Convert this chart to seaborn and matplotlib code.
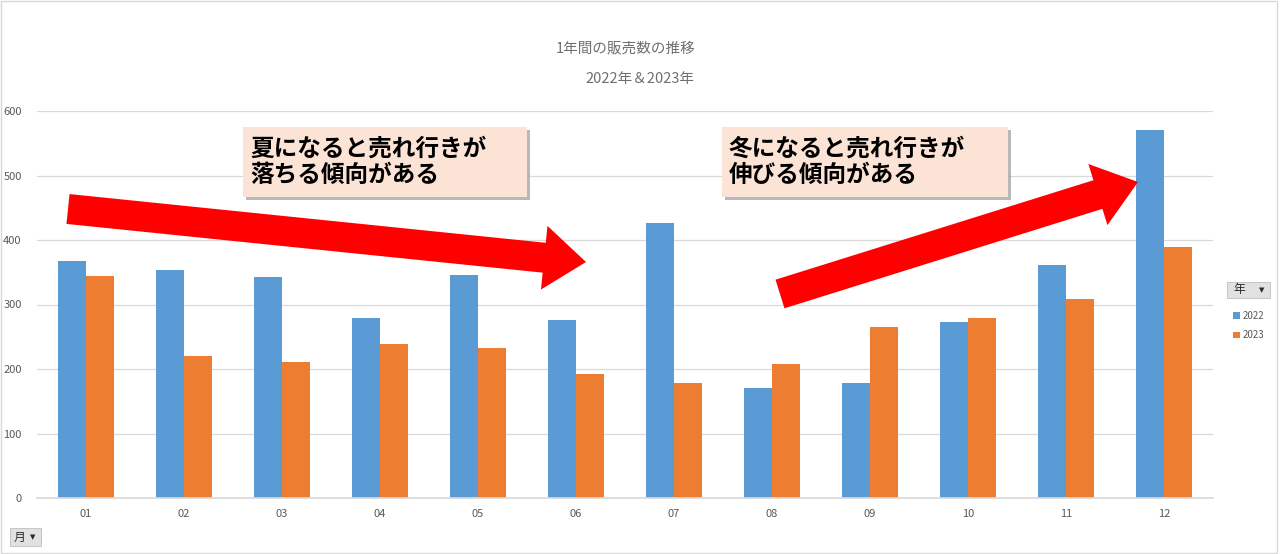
import matplotlib
matplotlib.use("Agg")
import matplotlib.pyplot as plt
import seaborn as sns
import pandas as pd
from matplotlib.patches import FancyArrowPatch, Rectangle, ArrowStyle

months = ["01", "02", "03", "04", "05", "06", "07", "08", "09", "10", "11", "12"]
sales_2022 = [367, 353, 343, 279, 346, 276, 426, 171, 178, 273, 361, 571]
sales_2023 = [344, 220, 211, 239, 233, 192, 178, 208, 265, 279, 309, 389]
years = ["2022", "2023"]
colors = ["#5B9BD5", "#ED7D31"]
title_lines = ["1年間の販売数の推移", "2022年＆2023年"]
note_summer = "夏になると売れ行きが\n落ちる傾向がある"
note_winter = "冬になると売れ行きが\n伸びる傾向がある"

df = pd.DataFrame({
    "月": months * 2,
    "販売数": sales_2022 + sales_2023,
    "年": [years[0]] * len(months) + [years[1]] * len(months),
})

sns.set_theme(style="white")
plt.rcParams['font.family'] = ['Noto Sans CJK JP', 'DejaVu Sans']

W, H = 1280, 554
fig = plt.figure(figsize=(W / 100, H / 100), dpi=100)

def fx(px):
    return px / W

def fy(py):
    return 1 - py / H

ax = fig.add_axes([fx(37), fy(498), fx(1213) - fx(37), fy(111) - fy(498)])
sns.barplot(data=df, x="月", y="販売数", hue="年", palette=colors,
            width=0.57, ax=ax, saturation=1, legend=True, linewidth=0, edgecolor="none")
ax.set_ylim(0, 600)
ax.set_yticks(range(0, 601, 100))
ax.yaxis.grid(True, color="#D9D9D9", linewidth=0.9)
ax.set_axisbelow(True)
for s in ["top", "right", "left"]:
    ax.spines[s].set_visible(False)
ax.spines["bottom"].set_color("#D9D9D9")
ax.set_xlabel("")
ax.set_ylabel("")
ax.tick_params(axis="both", colors="#595959", labelsize=8, length=0)
ax.tick_params(axis="y", pad=11)
ax.tick_params(axis="x", pad=8)

# Legend on right
ax.legend(loc="upper left", bbox_to_anchor=(fx(1224), fy(302)),
          bbox_transform=fig.transFigure, frameon=False, fontsize=7,
          handlelength=0.7, handleheight=0.7, handletextpad=0.3,
          labelspacing=1.0, labelcolor="#595959")

# Legend "年" button
fig.add_artist(Rectangle((fx(1227), fy(298)), fx(43), fy(282) - fy(298),
                         transform=fig.transFigure, fc="#E1E1E1", ec="#BFBFBF", lw=0.6))
fig.text(fx(1233), fy(290), "年", fontsize=8.5, va="center", ha="left", color="#262626")
fig.text(fx(1262), fy(290), "▼", fontsize=5, va="center", ha="center", color="#262626",
         family=["DejaVu Sans"])

# "月" button
fig.add_artist(Rectangle((fx(10), fy(546)), fx(31), fy(528) - fy(546),
                         transform=fig.transFigure, fc="#E1E1E1", ec="#BFBFBF", lw=0.6))
fig.text(fx(14), fy(537), "月", fontsize=8.5, va="center", ha="left", color="#262626")
fig.text(fx(33), fy(537), "▼", fontsize=5, va="center", ha="center", color="#262626",
         family=["DejaVu Sans"])

# Title
fig.text(fx(626), fy(48), title_lines[0], ha="center", va="center", fontsize=10.5, color="#6F6F6F")
fig.text(fx(640), fy(79), title_lines[1], ha="center", va="center", fontsize=10.5, color="#6F6F6F")

# Arrows
px2pt = 72 / 100
style = ArrowStyle("Simple", tail_width=30 * px2pt, head_width=64 * px2pt, head_length=42 * px2pt)
for (x0, y0), (x1, y1) in [((68, 209), (586, 262)), ((780, 294), (1138, 182))]:
    fig.add_artist(FancyArrowPatch((fx(x0), fy(y0)), (fx(x1), fy(y1)),
                                   transform=fig.transFigure, arrowstyle=style,
                                   mutation_scale=1, fc="#FF0000", ec="none",
                                   shrinkA=0, shrinkB=0))

# Note boxes
for left, right, txt in [(243, 527, note_summer), (722, 1008, note_winter)]:
    top, bottom = 127, 197
    fig.add_artist(Rectangle((fx(left + 3), fy(bottom + 3)), fx(right - left), fy(top) - fy(bottom),
                             transform=fig.transFigure, fc="#A6A6A6", ec="none", alpha=0.8))
    fig.add_artist(Rectangle((fx(left), fy(bottom)), fx(right - left), fy(top) - fy(bottom),
                             transform=fig.transFigure, fc="#FBE3D6", ec="none"))
    fig.text(fx(left + 7), fy(162), txt, ha="left", va="center", fontsize=17,
             fontweight="bold", color="#000000", linespacing=1.15)

# Outer frame
fig.add_artist(Rectangle((0.001, 0.002), 0.997, 0.996, transform=fig.transFigure,
                         fill=False, ec="#D9D9D9", lw=1))

fig.savefig("out.png", dpi=100)
